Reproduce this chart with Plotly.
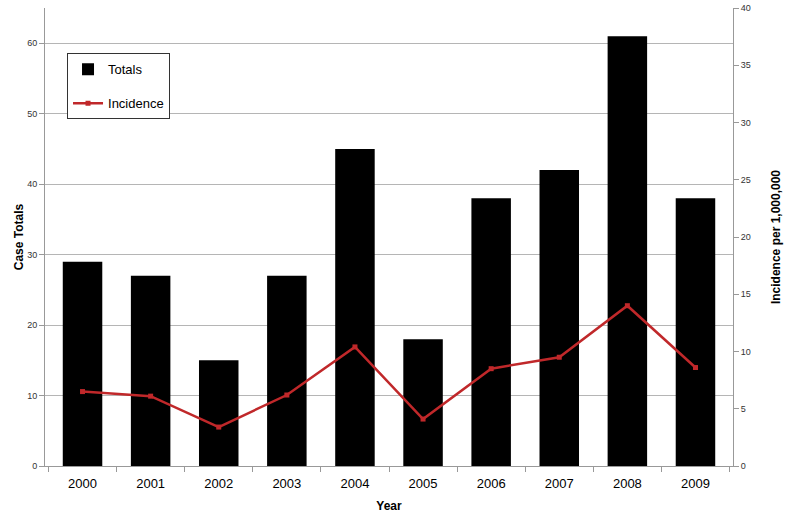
import plotly.graph_objects as go

# data
years = ["2000", "2001", "2002", "2003", "2004", "2005", "2006", "2007", "2008", "2009"]
totals = [29, 27, 15, 27, 45, 18, 38, 42, 61, 38]
incidence = [6.5, 6.1, 3.4, 6.2, 10.4, 4.1, 8.5, 9.5, 14.0, 8.6]

fnt = "Liberation Sans, Arial, sans-serif"

fig = go.Figure()
fig.add_trace(go.Bar(x=years, y=totals, name="Totals", marker_color="black",
                     marker_line_width=0, legendgroup="a"))
fig.add_trace(go.Scatter(x=years, y=incidence, name="Incidence", yaxis="y2",
                         mode="lines+markers", legendgroup="b",
                         line=dict(color="#c0282a", width=2.5),
                         marker=dict(symbol="square", size=5, color="#c0282a")))

fig.update_layout(
    width=787, height=513,
    margin=dict(l=45, r=54, t=8, b=47),
    plot_bgcolor="white", paper_bgcolor="white",
    bargap=0.42,
    font=dict(family=fnt, color="#222"),
    showlegend=True,
    legend=dict(x=0.032, y=0.901, xanchor="left", yanchor="top",
                bordercolor="#333", borderwidth=1, bgcolor="white",
                font=dict(size=13, color="black"),
                tracegroupgap=14, traceorder="grouped",
                entrywidth=86),
    xaxis=dict(showline=True, linecolor="#999", ticks="outside", tickcolor="#999",
               tickson="boundaries", ticklen=5, tickfont=dict(size=13, color="black"),
               ticklabelstandoff=5, automargin=False,
               title=dict(text="<b>Year</b>", font=dict(size=12, color="black"), standoff=12)),
    yaxis=dict(range=[0, 65], dtick=10, showline=True, linecolor="#999",
               ticks="outside", tickcolor="#999", ticklen=5,
               showgrid=True, gridcolor="#b5b5b5", gridwidth=1, zeroline=False,
               tickfont=dict(size=9, color="#333"), automargin=False,
               title=dict(text="<b>Case Totals</b>", font=dict(size=12, color="black"), standoff=0)),
    yaxis2=dict(range=[0, 40], dtick=5, overlaying="y", side="right",
                showline=True, linecolor="#999", ticks="outside", tickcolor="#999",
                ticklen=5, showgrid=False, zeroline=False,
                tickfont=dict(size=9, color="#333"), automargin=False,
                title=dict(text="<b>Incidence per 1,000,000</b>", font=dict(size=12, color="black"), standoff=21)),
)

# drop the browser's default 8px body margin so the figure sits at 0,0
fig.write_html("out.html", config={"displayModeBar": False},
               post_script="document.body.style.margin='0';")
